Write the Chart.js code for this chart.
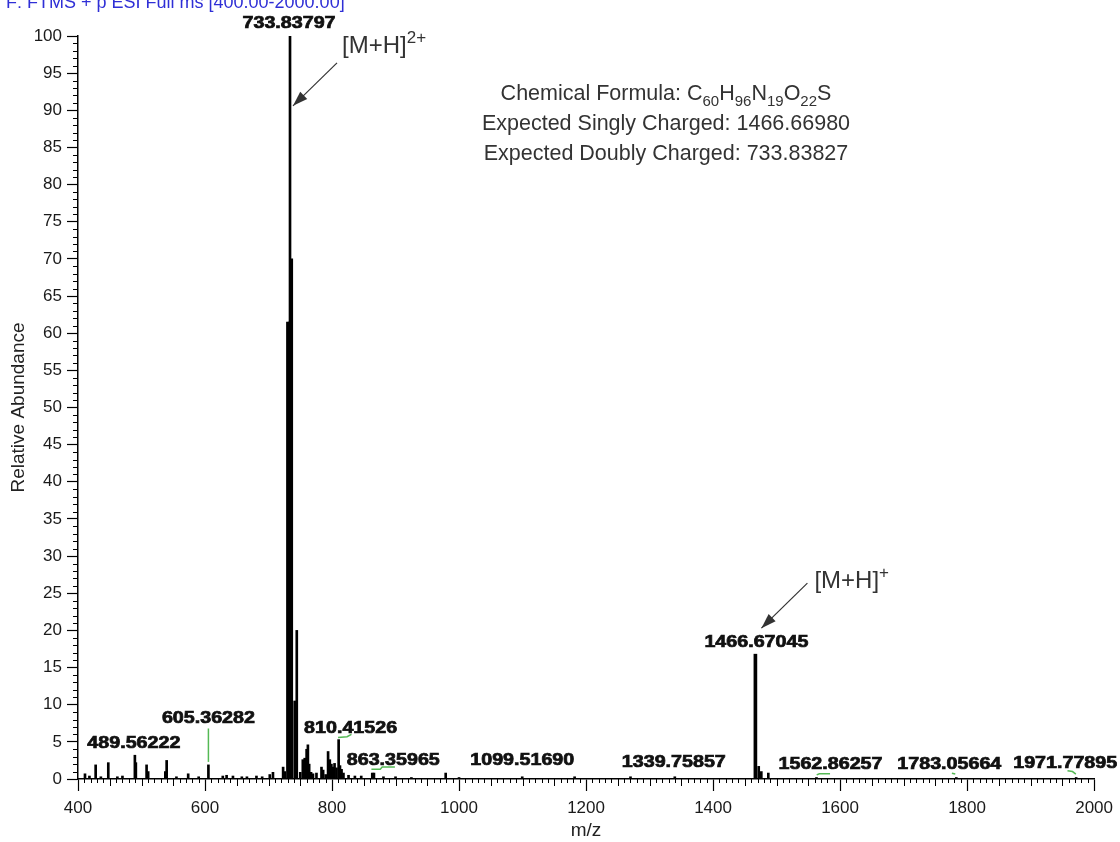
<!DOCTYPE html>
<html>
<head>
<meta charset="utf-8">
<script src="https://cdn.jsdelivr.net/npm/chart.js@4.4.1/dist/chart.umd.min.js"></script>
<style>
  html, body { margin: 0; padding: 0; background: #fff; }
  #wrap { width: 1120px; height: 842px; }
</style>
</head>
<body>
<div id="wrap"><canvas id="spectrum" width="1120" height="842"></canvas></div>
<script>
/* ─── Data ──────────────────────────────────────── */
// thin sticks (m/z, relative abundance)
const minorMz  = [411, 418, 427.8, 436, 447.7, 462, 470, 489.56, 491.1, 508, 510.5, 537.5, 539.6, 555, 573.5, 590,
                  605.36, 628, 634, 644, 658, 666, 681, 690, 702, 707, 723, 725.5, 733.84, 744.5, 750, 754, 757, 760,
                  762, 764, 767, 770, 775.5, 783.4, 786, 790, 793.8, 796.5, 799, 801.5, 804, 807, 810.42, 812.5, 815,
                  818, 826, 836, 846, 863.37, 866, 881, 900, 925, 979, 1000, 1099.52, 1182, 1270, 1339.76, 1471.9,
                  1476, 1487, 1562.86, 1783.06, 1971.78];
const minorInt = [0.7, 0.4, 1.9, 0.3, 2.2, 0.3, 0.4, 3.2, 2.2, 1.9, 1.0, 1.0, 2.5, 0.3, 0.7, 0.3,
                  1.9, 0.4, 0.5, 0.4, 0.3, 0.3, 0.4, 0.3, 0.6, 0.9, 1.6, 1.0, 100, 20, 0.9, 2.6, 2.8, 4.0,
                  4.6, 2.0, 0.9, 0.7, 0.8, 1.6, 1.2, 0.6, 3.7, 2.6, 2.0, 1.6, 2.1, 1.5, 5.3, 1.8, 1.3,
                  0.8, 0.5, 0.4, 0.4, 0.8, 0.8, 0.3, 0.3, 0.2, 0.8, 0.2, 0.3, 0.3, 0.3, 0.3, 1.7,
                  1.0, 0.8, 0.2, 0.2, 0.2];
// wide sticks of the isotope clusters
const majorMz  = [730.6, 733.2, 735.8, 742.0, 1466.67];
const majorInt = [61.5, 61.5, 70.0, 10.5, 16.8];

// labelled peaks
const labelMz = [733.83797, 489.56222, 605.36282, 810.41526, 863.35965, 1099.51690,
                 1339.75857, 1466.67045, 1562.86257, 1783.05664, 1971.77895];

const xTickValues = [400, 600, 800, 1000, 1200, 1400, 1600, 1800, 2000];
const yTickValues = [0, 5, 10, 15, 20, 25, 30, 35, 40, 45, 50, 55, 60, 65, 70, 75, 80, 85, 90, 95, 100];

/* ─── Placement of the label texts (px shift, level) and green leaders ── */
const labelPlace = [
  [-1, 101.9], [-1, 4.9], [0, 8.3], [12, 6.9], [21, 2.7], [0, 2.7],
  [-1, 2.4], [1, 18.5], [14, 2.1], [-7, 2.15], [-11, 2.3],
];
const leaders = [
  [[605.36, 6.8], [605.36, 2.3]],
  [[809.5, 5.6], [823.7, 5.7], [830.6, 6.0]],
  [[862, 1.3], [876, 1.3], [879, 1.6], [899, 1.6]],
  [[1563.2, 0.55], [1567.4, 0.7], [1584.2, 0.7]],
  [[1776.1, 0.77], [1781.4, 0.67]],
  [[1958.1, 1.1], [1966, 1.0], [1971.3, 0.67]],
];

const FONT = '"Liberation Sans", Arial, sans-serif';

/* ─── Helpers ───────────────────────────────────── */
function richText(ctx, parts, x, y, size, align, ratio = 0.7) {
  const small = Math.round(size * ratio);
  const widths = parts.map(([t, k]) => {
    ctx.font = (k ? small : size) + 'px ' + FONT;
    return ctx.measureText(t).width;
  });
  const total = widths.reduce((a, b) => a + b, 0);
  let cx = align === 'center' ? x - total / 2 : x;
  ctx.textAlign = 'left';
  ctx.textBaseline = 'alphabetic';
  parts.forEach(([t, k], i) => {
    ctx.font = (k ? small : size) + 'px ' + FONT;
    const dy = k === 'sub' ? size * 0.28 : k === 'sup' ? -size * 0.42 : 0;
    ctx.fillText(t, cx, y + dy);
    cx += widths[i];
  });
}

function arrow(ctx, x0, y0, x1, y1) {
  ctx.beginPath();
  ctx.moveTo(x0, y0);
  ctx.lineTo(x1, y1);
  ctx.stroke();
  const a = Math.atan2(y1 - y0, x1 - x0), L = 15, W = 5;
  ctx.beginPath();
  ctx.moveTo(x1, y1);
  ctx.lineTo(x1 - L * Math.cos(a) + W * Math.sin(a), y1 - L * Math.sin(a) - W * Math.cos(a));
  ctx.lineTo(x1 - L * Math.cos(a) - W * Math.sin(a), y1 - L * Math.sin(a) + W * Math.cos(a));
  ctx.closePath();
  ctx.fill();
}

/* ─── Plugins ───────────────────────────────────── */
const minorTicks = {
  id: 'minorTicks',
  afterDraw(chart) {
    const { ctx, chartArea: ca, scales: { x, y } } = chart;
    ctx.save();
    ctx.strokeStyle = '#000';
    ctx.lineWidth = 1;
    ctx.beginPath();
    for (let v = 1; v < 100; v++) {
      if (v % 5 === 0) continue;
      const py = Math.round(y.getPixelForValue(v)) + 0.5;
      ctx.moveTo(ca.left - 5, py);
      ctx.lineTo(ca.left, py);
    }
    for (let v = 410; v < 2000; v += 10) {
      if (v % 200 === 0) continue;
      const px = Math.round(x.getPixelForValue(v)) + 0.5;
      ctx.moveTo(px, ca.bottom);
      ctx.lineTo(px, ca.bottom + (v % 50 === 0 ? 7 : 4));
    }
    ctx.stroke();
    ctx.restore();
  },
};

const annotations = {
  id: 'annotations',
  afterDraw(chart) {
    const { ctx, scales: { x, y } } = chart;
    ctx.save();

    // scan header, cut by the top edge
    ctx.fillStyle = '#2f2fd6';
    ctx.font = '18px ' + FONT;
    ctx.textAlign = 'left';
    ctx.textBaseline = 'alphabetic';
    ctx.fillText('F: FTMS + p ESI Full ms [400.00-2000.00]', 6, 8);

    // green leaders
    ctx.strokeStyle = '#55b955';
    ctx.lineWidth = 1.5;
    leaders.forEach(pts => {
      ctx.beginPath();
      pts.forEach(([m, v], i) => {
        const px = x.getPixelForValue(m), py = y.getPixelForValue(v);
        if (i === 0) ctx.moveTo(px, py); else ctx.lineTo(px, py);
      });
      ctx.stroke();
    });

    // peak labels
    ctx.fillStyle = '#111';
    ctx.strokeStyle = '#111';
    ctx.lineWidth = 0.7;
    ctx.font = 'bold 16px ' + FONT;
    ctx.textAlign = 'center';
    labelMz.forEach((m, i) => {
      const [dx, lvl] = labelPlace[i];
      const px = x.getPixelForValue(m) + dx;
      const py = y.getPixelForValue(lvl);
      ctx.save();
      ctx.translate(px, py);
      ctx.scale(1.23, 1);
      ctx.fillText(m.toFixed(5), 0, 5.7);
      ctx.strokeText(m.toFixed(5), 0, 5.7);
      ctx.restore();
    });

    // charge state arrows
    ctx.fillStyle = '#333';
    ctx.strokeStyle = '#333';
    ctx.lineWidth = 1.2;
    const t2 = { x: x.getPixelForValue(733.84) + 3, y: y.getPixelForValue(90.6) };
    arrow(ctx, t2.x + 44, t2.y - 43, t2.x, t2.y);
    richText(ctx, [['[M+H]', ''], ['2+', 'sup']], t2.x + 49, t2.y - 53, 24, 'left', 0.72);

    const t1 = { x: x.getPixelForValue(1466.67) + 6, y: y.getPixelForValue(20.3) };
    arrow(ctx, t1.x + 46, t1.y - 45, t1.x, t1.y);
    richText(ctx, [['[M+H]', ''], ['+', 'sup']], t1.x + 53, t1.y - 40, 24, 'left', 0.72);

    // formula block
    const cx = 666;
    richText(ctx, [['Chemical Formula: C', ''], ['60', 'sub'], ['H', ''], ['96', 'sub'], ['N', ''],
                   ['19', 'sub'], ['O', ''], ['22', 'sub'], ['S', '']], cx, 100, 21.5, 'center');
    richText(ctx, [['Expected Singly Charged: 1466.66980', '']], cx, 130, 21.5, 'center');
    richText(ctx, [['Expected Doubly Charged: 733.83827', '']], cx, 160, 21.5, 'center');

    ctx.restore();
  },
};

/* ─── Chart ─────────────────────────────────────── */
const ctx = document.getElementById('spectrum').getContext('2d');

new Chart(ctx, {
  type: 'bar',
  data: {
    datasets: [
      {
        label: 'sticks',
        data: minorMz.map((m, i) => ({ x: m, y: minorInt[i] })),
        backgroundColor: '#000',
        barThickness: 2,
        grouped: false,
        order: 0,
      },
      {
        label: 'clusters',
        data: majorMz.map((m, i) => ({ x: m, y: majorInt[i] })),
        backgroundColor: '#000',
        barThickness: 3,
        grouped: false,
        order: 1,
      },
    ],
  },
  options: {
    responsive: false,
    animation: false,
    events: [],
    layout: { padding: { top: 36, right: 25, left: 0, bottom: 0 } },
    plugins: { legend: { display: false }, tooltip: { enabled: false } },
    scales: {
      x: {
        type: 'linear',
        min: 400,
        max: 2000,
        offset: false,
        afterBuildTicks: s => { s.ticks = xTickValues.map(v => ({ value: v })); },
        afterFit: s => { s.height = 63; },
        grid: { drawOnChartArea: false, offset: false, tickLength: 12, color: '#000', tickWidth: 1.2 },
        border: { color: '#000', width: 1.5 },
        ticks: {
          color: '#1a1a1a', font: { family: FONT, size: 17 }, padding: 7,
          maxRotation: 0, autoSkip: false, callback: v => String(v),
        },
        title: { display: true, text: 'm/z', color: '#222', font: { family: FONT, size: 19 }, padding: { top: 0, bottom: 0 } },
      },
      y: {
        min: 0,
        max: 100,
        afterBuildTicks: s => { s.ticks = yTickValues.map(v => ({ value: v })); },
        afterFit: s => { s.width = 78; },
        grid: { drawOnChartArea: false, tickLength: 11, color: '#000', tickWidth: 1.2 },
        border: { color: '#000', width: 1.5 },
        ticks: { color: '#1a1a1a', font: { family: FONT, size: 17 }, padding: 5, autoSkip: false, callback: v => String(v) },
        title: { display: true, text: 'Relative Abundance', color: '#222', font: { family: FONT, size: 19 }, padding: { top: 7, bottom: 0 } },
      },
    },
  },
  plugins: [minorTicks, annotations],
});
</script>
</body>
</html>
